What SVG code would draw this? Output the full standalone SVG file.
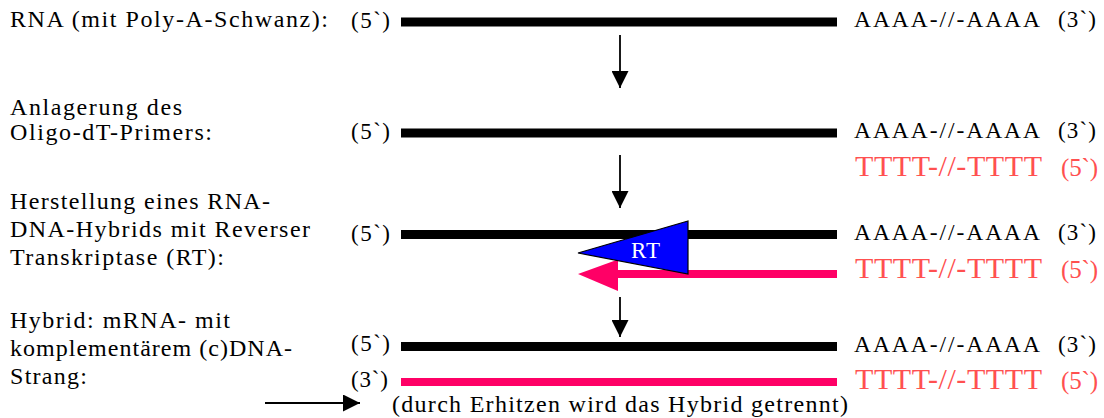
<svg xmlns="http://www.w3.org/2000/svg" width="1104" height="418" viewBox="0 0 1104 418">
<style>
text{font-family:"Liberation Serif","Times New Roman",serif;}
.lbl{font-size:24px;fill:#000;}
.end{font-size:23px;fill:#000;}
.seq{font-size:23.5px;fill:#000;}
.tseq{font-size:30px;fill:#ff5050;}
.t5{font-size:25px;fill:#ff5050;}
.rna{fill:#000;}
.dna{fill:#ff0066;}
.arr{stroke:#000;stroke-width:1.8;fill:none;}
</style>
<defs>
<marker id="ah" viewBox="0 0 17 17" refX="17" refY="8.5" markerWidth="17" markerHeight="17" markerUnits="userSpaceOnUse" orient="auto">
<path d="M0,0 L17,8.5 L0,17 Z" fill="#000"/>
</marker>
</defs>

<g id="labels">
<text class="lbl" x="10" y="27" textLength="318" lengthAdjust="spacing">RNA (mit Poly-A-Schwanz):</text>
<text class="lbl" x="10" y="115" textLength="172" lengthAdjust="spacing">Anlagerung des</text>
<text class="lbl" x="10" y="140" textLength="202" lengthAdjust="spacing">Oligo-dT-Primers:</text>
<text class="lbl" x="10" y="209" textLength="260" lengthAdjust="spacing">Herstellung eines RNA-</text>
<text class="lbl" x="10" y="237" textLength="300" lengthAdjust="spacing">DNA-Hybrids mit Reverser</text>
<text class="lbl" x="10" y="265" textLength="214" lengthAdjust="spacing">Transkriptase (RT):</text>
<text class="lbl" x="10" y="328" textLength="220" lengthAdjust="spacing">Hybrid: mRNA- mit</text>
<text class="lbl" x="10" y="356" textLength="282" lengthAdjust="spacing">komplementärem (c)DNA-</text>
<text class="lbl" x="10" y="384" textLength="77" lengthAdjust="spacing">Strang:</text>
</g>

<g id="row1">
<text class="end" x="351" y="28" textLength="39" lengthAdjust="spacing">(5`)</text>
<rect class="rna" x="401" y="17.5" width="436" height="9"/>
<text class="seq" x="854" y="27" textLength="186" lengthAdjust="spacing">AAAA-//-AAAA</text>
<text class="end" x="1058" y="27" textLength="38" lengthAdjust="spacing">(3`)</text>
</g>

<g id="row2">
<text class="end" x="351" y="139" textLength="39" lengthAdjust="spacing">(5`)</text>
<rect class="rna" x="401" y="128.5" width="436" height="9"/>
<text class="seq" x="854" y="138" textLength="186" lengthAdjust="spacing">AAAA-//-AAAA</text>
<text class="end" x="1058" y="138" textLength="38" lengthAdjust="spacing">(3`)</text>
<text class="tseq" x="855" y="176" textLength="187" lengthAdjust="spacing">TTTT-//-TTTT</text>
<text class="t5" x="1061" y="176" textLength="37" lengthAdjust="spacing">(5`)</text>
</g>

<g id="row3">
<text class="end" x="351" y="241" textLength="39" lengthAdjust="spacing">(5`)</text>
<rect class="rna" x="401" y="230" width="436" height="9"/>
<text class="seq" x="854" y="240" textLength="186" lengthAdjust="spacing">AAAA-//-AAAA</text>
<text class="end" x="1058" y="240" textLength="38" lengthAdjust="spacing">(3`)</text>
<text class="tseq" x="855" y="278" textLength="187" lengthAdjust="spacing">TTTT-//-TTTT</text>
<text class="t5" x="1061" y="278" textLength="37" lengthAdjust="spacing">(5`)</text>
<g id="cdna-growing">
<rect class="dna" x="616" y="270" width="221" height="8"/>
<polygon class="dna" points="618,259.5 618,291 578,274"/>
</g>
<g id="RT">
<polygon points="688,221 688,274 578,253" fill="#0000ff" stroke="#000" stroke-width="1.2"/>
<text x="646" y="258" text-anchor="middle" font-size="23" fill="#fff" letter-spacing="1">RT</text>
</g>
</g>

<g id="row4">
<text class="end" x="351" y="351" textLength="39" lengthAdjust="spacing">(5`)</text>
<rect class="rna" x="401" y="342" width="436" height="9"/>
<text class="seq" x="854" y="352" textLength="186" lengthAdjust="spacing">AAAA-//-AAAA</text>
<text class="end" x="1058" y="352" textLength="38" lengthAdjust="spacing">(3`)</text>
<text class="end" x="351" y="387" textLength="37" lengthAdjust="spacing">(3`)</text>
<rect class="dna" x="401" y="378" width="436" height="8"/>
<text class="tseq" x="855" y="389" textLength="187" lengthAdjust="spacing">TTTT-//-TTTT</text>
<text class="t5" x="1061" y="389" textLength="37" lengthAdjust="spacing">(5`)</text>
</g>

<g id="connectors">
<line class="arr" x1="620" y1="35" x2="620" y2="88" marker-end="url(#ah)"/>
<line class="arr" x1="620" y1="155" x2="620" y2="208" marker-end="url(#ah)"/>
<line class="arr" x1="620" y1="297" x2="620" y2="337" marker-end="url(#ah)"/>
<line class="arr" x1="265" y1="403" x2="360" y2="403" marker-end="url(#ah)"/>
</g>

<g id="note">
<text class="lbl" x="392" y="412" textLength="456" lengthAdjust="spacing">(durch Erhitzen wird das Hybrid getrennt)</text>
</g>
</svg>
